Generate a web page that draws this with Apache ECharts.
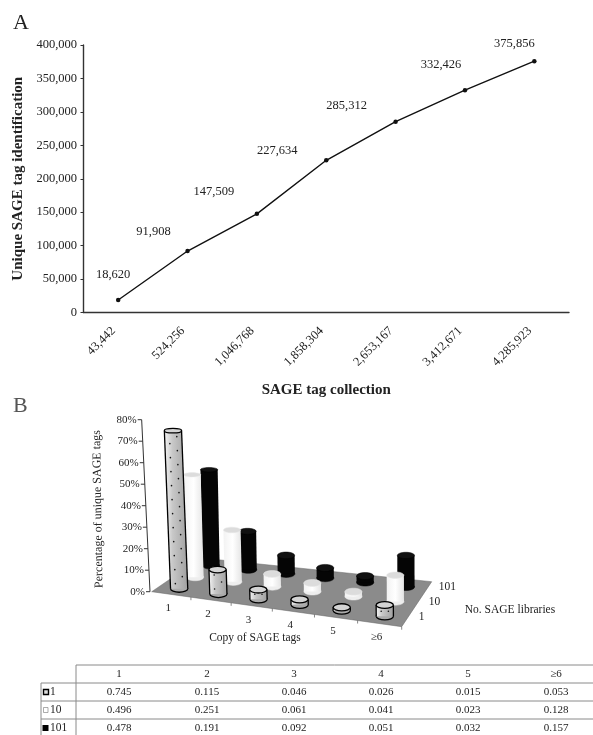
<!DOCTYPE html>
<html><head><meta charset="utf-8">
<style>html,body{margin:0;padding:0;background:#fff}#c{width:593px;height:735px;filter:blur(0.4px)}</style>
<script src="https://cdn.jsdelivr.net/npm/echarts@6/dist/echarts.min.js"></script>
</head><body><div id="c"></div>
<script>
const collection = ['43,442','524,256','1,046,768','1,858,304','2,653,167','3,412,671','4,285,923'];
const uniqueTags = [18620,91908,147509,227634,285312,332426,375856];
const yTicksMax = 400000;
const copies = ['1','2','3','4','5','≥6'];
const libraries = ['1','10','101'];
const lib1 = [0.745,0.115,0.046,0.026,0.015,0.053];
const lib10 = [0.496,0.251,0.061,0.041,0.023,0.128];
const lib101 = [0.478,0.191,0.092,0.051,0.032,0.157];
const pctTicks = [0,0.1,0.2,0.3,0.4,0.5,0.6,0.7,0.8];

const SERIF = '"Liberation Serif","Times New Roman",serif';
const INK = '#222';
const labelOffsets = [[-5,-25],[-34,-19],[-43,-22],[-49,-10],[-49,-16],[-24,-25],[-20,-17]];

// oblique floor, unit square -> screen quad
const FL=[151.7,591.7],FR=[401.7,626.7],BR=[431.7,581.7],BL=[201,558];
function floorPt(u,v){
  const w=u*(0.93+0.07*u);
  const lx=FL[0]+(BL[0]-FL[0])*v, ly=FL[1]+(BL[1]-FL[1])*v;
  const rx=FR[0]+(BR[0]-FR[0])*v, ry=FR[1]+(BR[1]-FR[1])*v;
  return [lx+(rx-lx)*w, ly+(ry-ly)*w];
}
const G2={left:152,top:420,width:250,height:172};
function lean(x){return 0.0485*Math.max(0,1-(x-150)/270);}
function uOf(api,cat){return (api.coord([cat,0])[0]-G2.left)/G2.width;}
function hOf(api,val){return api.coord([0,0])[1]-api.coord([0,val])[1];}

const cylinderData=[];
[[lib101,2],[lib10,1],[lib1,0]].forEach(([arr,lib])=>{arr.forEach((val,i)=>cylinderData.push([i+0.5,val,lib]));});

function cylinder(params,api){
  const cat=api.value(0),val=api.value(1),lib=api.value(2);
  const v=(lib+0.5)/3;
  const base=floorPt(uOf(api,cat),v);
  const h=hOf(api,val)*(1-0.08*v),dx=lean(base[0])*h*(1-0.55*v);
  const top=[base[0]-dx,base[1]-h];
  const r=8.6,rb=3.6,rt=Math.max(2.2,3.6-h/70);
  const kids=[];
  const body=`M${base[0]-r} ${base[1]}L${top[0]-r} ${top[1]}L${top[0]+r} ${top[1]}L${base[0]+r} ${base[1]}Z`;
  let fill,stroke,lw,topFill;
  if(lib===2){fill='#050505';stroke='#000';lw=0.5;topFill='#111';}
  else if(lib===1){fill={type:'linear',x:0,y:0,x2:1,y2:0,colorStops:[{offset:0,color:'#f2f2f2'},{offset:0.5,color:'#fff'},{offset:1,color:'#e4e4e4'}]};stroke='#e8e8e8';lw=0.5;topFill='#dcdcdc';}
  else {fill={type:'linear',x:0,y:0,x2:1,y2:0,colorStops:[{offset:0,color:'#f4f4f4'},{offset:0.35,color:'#c8c8c8'},{offset:1,color:'#a0a0a0'}]};stroke='#000';lw=1.3;topFill='#d4d4d4';}
  kids.push({type:'ellipse',shape:{cx:base[0],cy:base[1],rx:r,ry:rb},style:{fill:lib===0?'#aaa':(lib===1?'#eee':'#050505'),stroke,lineWidth:lw}});
  kids.push({type:'path',shape:{pathData:body,layout:'cover',x:Math.min(base[0],top[0])-r,y:top[1],width:Math.abs(dx)+2*r,height:h},style:{fill,stroke:'none'}});
  if(lib===0){
    kids.push({type:'line',shape:{x1:base[0]-r,y1:base[1],x2:top[0]-r,y2:top[1]},style:{stroke:'#000',lineWidth:lw}});
    kids.push({type:'line',shape:{x1:base[0]+r,y1:base[1],x2:top[0]+r,y2:top[1]},style:{stroke:'#000',lineWidth:lw}});
    for(let j=1,row=0;j*7<h+2;j++,row++){
      const t=(j*7-2)/h; if(t>1) break;
      const cx=base[0]-dx*t,cy=base[1]-h*t;
      [-3.6,3.6].forEach((o,k)=>{ if((row%2===0)===(k===0)||h<20) kids.push({type:'circle',shape:{cx:cx+o,cy,r:0.8},style:{fill:'#111'}}); });
    }
  }
  kids.push({type:'ellipse',shape:{cx:top[0],cy:top[1],rx:r,ry:rt},style:{fill:topFill,stroke,lineWidth:lw}});
  return {type:'group',children:kids};
}

const tableTop=665,rowH=18,colX=[119,207,294,381,468,556];
const lineCol='#8a8a8a';
const graphics=[
 {type:'text',left:13,top:12,style:{text:'A',font:'22px '+SERIF,fill:INK}},
 {type:'text',left:13,top:395,style:{text:'B',font:'22px '+SERIF,fill:'#555'}},
 {type:'text',x:98,y:509,rotation:Math.PI/2*1.01,style:{text:'Percentage of unique SAGE tags',font:'12px '+SERIF,fill:INK,align:'center',verticalAlign:'middle'}},
 {type:'text',x:255,y:638,style:{text:'Copy of SAGE tags',font:'11.5px '+SERIF,fill:INK,align:'center',verticalAlign:'middle'}},
 {type:'text',x:510,y:610,style:{text:'No. SAGE libraries',font:'11.5px '+SERIF,fill:INK,align:'center',verticalAlign:'middle'}},
 {type:'line',shape:{x1:76,y1:tableTop,x2:593,y2:tableTop},style:{stroke:lineCol,lineWidth:1}},
 {type:'line',shape:{x1:76,y1:tableTop,x2:76,y2:735},style:{stroke:lineCol,lineWidth:1}},
 {type:'line',shape:{x1:41,y1:tableTop+rowH,x2:41,y2:735},style:{stroke:lineCol,lineWidth:1}},
];
[1,2,3].forEach(r=>graphics.push({type:'line',shape:{x1:41,y1:tableTop+r*rowH,x2:593,y2:tableTop+r*rowH},style:{stroke:lineCol,lineWidth:1}}));
const cellStyle=t=>({text:t,font:'11px '+SERIF,fill:INK,align:'center',verticalAlign:'middle'});
copies.forEach((c,i)=>graphics.push({type:'text',x:colX[i],y:tableTop+rowH/2,style:cellStyle(c)}));
[lib1,lib10,lib101].forEach((arr,r)=>{
  const y=tableTop+rowH*(r+1.5);
  graphics.push({type:'text',x:50,y,style:{text:libraries[r],font:'11.5px '+SERIF,fill:INK,align:'left',verticalAlign:'middle'}});
  arr.forEach((v,i)=>graphics.push({type:'text',x:colX[i],y,style:cellStyle(v.toFixed(3))}));
});
graphics.push({type:'rect',shape:{x:43.5,y:tableTop+rowH*1.5-2.5,width:5,height:5},style:{fill:'#ddd',stroke:'#000',lineWidth:1.4}});
graphics.push({type:'rect',shape:{x:43.5,y:tableTop+rowH*2.5-2.5,width:4.5,height:5},style:{fill:'#fff',stroke:'#888',lineWidth:0.7}});
graphics.push({type:'rect',shape:{x:42.5,y:tableTop+rowH*3.5-3,width:6,height:6},style:{fill:'#000'}});

const chart=echarts.init(document.getElementById('c'),null,{renderer:'canvas'});
chart.setOption({
 animation:false,backgroundColor:'#fff',
 textStyle:{fontFamily:SERIF},
 grid:[{left:83.5,top:45,width:485.5,height:267.5,containLabel:false},
       {left:G2.left,top:G2.top,width:G2.width,height:G2.height,show:false}],
 xAxis:[{type:'category',gridIndex:0,data:collection,boundaryGap:true,
   name:'SAGE tag collection',nameLocation:'middle',nameGap:70,
   nameTextStyle:{fontFamily:SERIF,fontWeight:'bold',fontSize:15,color:INK},
   axisLine:{lineStyle:{color:'#333',width:1.4}},axisTick:{alignWithLabel:false,length:3,lineStyle:{color:'#333',width:1}},
   axisLabel:{rotate:45,interval:0,margin:21,verticalAlign:'bottom',fontFamily:SERIF,fontSize:12.5,color:INK},splitLine:{show:false}},
  {type:'value',gridIndex:1,min:0,max:6,show:false}],
 yAxis:[{type:'value',gridIndex:0,min:0,max:yTicksMax,interval:50000,
   name:'Unique SAGE tag identification',nameLocation:'middle',nameGap:52,
   nameTextStyle:{fontFamily:SERIF,fontWeight:'bold',fontSize:15,color:INK},
   axisLine:{show:true,lineStyle:{color:'#333',width:1.4}},axisTick:{show:true,length:3,lineStyle:{color:'#333',width:1}},
   axisLabel:{margin:6.5,fontFamily:SERIF,fontSize:12.5,color:INK,formatter:v=>v.toLocaleString('en-US')},splitLine:{show:false}},
  {type:'value',gridIndex:1,min:0,max:0.8,show:false}],
 series:[
  {type:'line',xAxisIndex:0,yAxisIndex:0,data:uniqueTags.map((v,i)=>({value:v,label:{offset:labelOffsets[i]}})),
   symbol:'circle',symbolSize:4.5,itemStyle:{color:'#111'},lineStyle:{color:'#111',width:1.4},
   label:{show:true,position:'inside',formatter:p=>p.value.toLocaleString('en-US'),fontFamily:SERIF,fontSize:12.5,color:INK}},
  // floor
  {type:'custom',xAxisIndex:1,yAxisIndex:1,data:[[0,0]],silent:true,z:2,clip:false,
   renderItem:(p,api)=>{const pts=[floorPt(0,0),floorPt(1,0),floorPt(1,1),floorPt(0,1)];
     return {type:'polygon',shape:{points:pts},style:{fill:'#8b8b8b',stroke:'#666',lineWidth:0.5}};}},
  // pct axis
  {type:'custom',xAxisIndex:1,yAxisIndex:1,data:pctTicks.map(v=>[0,v]),silent:true,z:3,clip:false,
   renderItem:(p,api)=>{const val=api.value(1),h=hOf(api,val),x=150-lean(150)*h,y=FL[1]-h,x2=150-lean(150)*G2.height;
     const kids=[{type:'line',shape:{x1:x-4,y1:y,x2:x,y2:y},style:{stroke:'#333',lineWidth:1}},
       {type:'text',style:{text:Math.round(val*100)+'%',x:x-5,y,font:'11px '+SERIF,fill:INK,align:'right',verticalAlign:'middle'}}];
     if(p.dataIndex===0) kids.push({type:'line',shape:{x1:150,y1:FL[1],x2,y2:FL[1]-G2.height},style:{stroke:'#333',lineWidth:1}});
     return {type:'group',children:kids};}},
  // copy labels and front ticks
  {type:'custom',xAxisIndex:1,yAxisIndex:1,data:copies.map((c,i)=>[i+0.5,0]),silent:true,z:3,clip:false,
   renderItem:(p,api)=>{const i=p.dataIndex,c=api.value(0),f=floorPt(uOf(api,c),0),t=floorPt(uOf(api,c+0.5),0);
     return {type:'group',children:[
       {type:'text',style:{text:copies[i],x:f[0]-3,y:f[1]+14,font:'11px '+SERIF,fill:INK,align:'center',verticalAlign:'middle'}},
       {type:'line',shape:{x1:t[0],y1:t[1],x2:t[0],y2:t[1]+3},style:{stroke:'#555',lineWidth:0.7}}]};}},
  // library labels
  {type:'custom',xAxisIndex:1,yAxisIndex:1,data:libraries.map((c,i)=>[6,i]),silent:true,z:3,clip:false,
   renderItem:(p,api)=>{const i=p.dataIndex,f=floorPt(1,(i+0.5)/3);
     return {type:'text',style:{text:libraries[i],x:f[0]+12,y:f[1]-2,font:'11.5px '+SERIF,fill:INK,align:'left',verticalAlign:'middle'}};}},
  // cylinders
  {type:'custom',xAxisIndex:1,yAxisIndex:1,data:cylinderData,silent:true,z:4,clip:false,encode:{x:0,y:1},renderItem:cylinder}
 ],
 graphic:{elements:graphics}
});
</script></body></html>
